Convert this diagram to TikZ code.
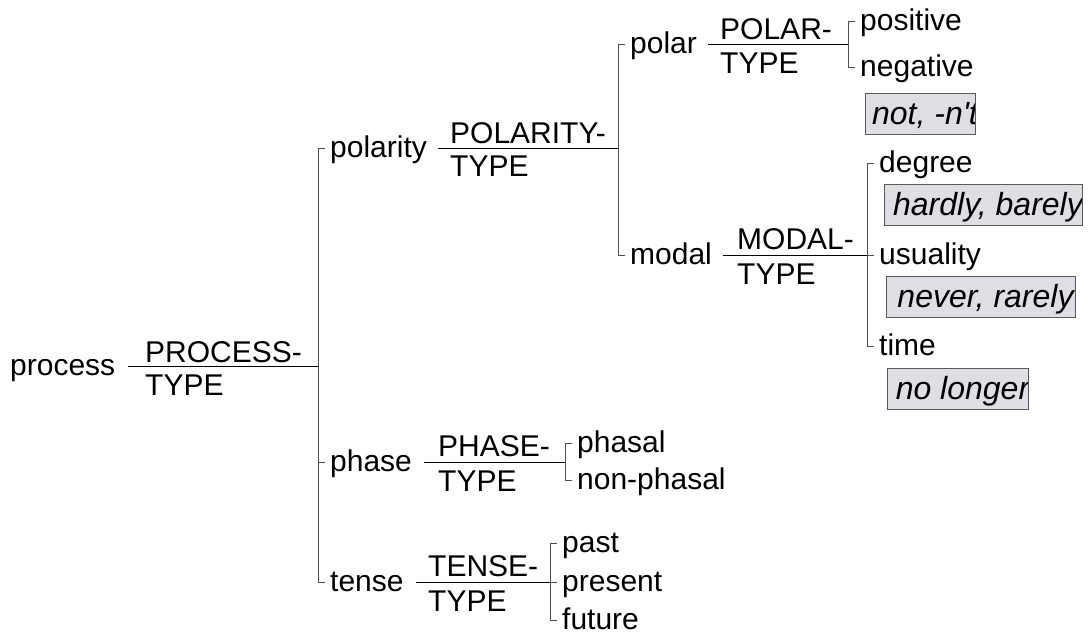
\documentclass[tikz,border=0pt]{standalone}
\usepackage{fontspec}
\setmainfont{Liberation Sans}
\definecolor{brackline}{RGB}{80,80,80}
\definecolor{exfill}{RGB}{222,222,228}
\definecolor{exline}{RGB}{90,90,90}
\newcommand{\labelsize}{\fontsize{30}{36}\selectfont}
\newcommand{\exsize}{\fontsize{32}{36}\selectfont\itshape}
\begin{document}
\begin{tikzpicture}[x=1pt,y=-1pt,
  lbl/.style={anchor=west, inner xsep=5pt, inner ysep=0pt,
    text height=25.5pt, text depth=7.5pt, font=\labelsize},
  tytop/.style={anchor=base west, inner sep=0pt, font=\labelsize},
  tybot/.style={anchor=base west, inner sep=0pt, font=\labelsize},
  sysline/.style={draw=black, line width=1pt},
  brk/.style={draw=brackline, line width=1pt},
  exbox/.style={draw=exline, fill=exfill, line width=1pt, anchor=north west,
    inner sep=0pt, minimum height=41pt,
    path picture={\node[anchor=base west, inner sep=0pt]
      at ([xshift=4pt,yshift=10pt]path picture bounding box.south west)
      {\exsize #1};}},
]
\useasboundingbox (0,0) rectangle (1091,644);

% root system: PROCESS-TYPE
\node[lbl] (process) at (5,366) {process};
\coordinate (j0) at (318,366);
\draw[sysline] ([xshift=8pt]process.east) -- (j0);
\node[tytop] (process-t) at (145,362) {PROCESS-};
\node[tybot] (process-b) at (145,395) {TYPE};

\node[lbl] (polarity) at (325,149) {polarity};
\node[lbl] (phase) at (325,462) {phase};
\node[lbl] (tense) at (325,582) {tense};
\draw[brk] (polarity.west) -- ++(-7,0) |- (tense.west);
\draw[brk] (phase.west) -- ++(-7,0);

% POLARITY-TYPE
\coordinate (j1) at (618,149);
\draw[sysline] ([xshift=6pt]polarity.east) -- (j1);
\node[tytop] (polarity-t) at (450,144) {POLARITY-};
\node[tybot] (polarity-b) at (450,177) {TYPE};
\node[lbl] (polar) at (625,45) {polar};
\node[lbl] (modal) at (625,255) {modal};
\draw[brk] (polar.west) -- ++(-7,0) |- (modal.west);

% POLAR-TYPE
\coordinate (j2) at (848,45);
\draw[sysline] ([xshift=6pt]polar.east) -- (j2);
\node[tytop] (polar-t) at (720,40) {POLAR-};
\node[tybot] (polar-b) at (720,74) {TYPE};
\node[lbl] (positive) at (855,22) {positive};
\node[lbl] (negative) at (855,68) {negative};
\draw[brk] (positive.west) -- ++(-7,0) |- (negative.west);
\node[exbox={not, -n\textquotesingle t}, minimum width=110pt] (ex-not) at (865,93) {};

% MODAL-TYPE
\coordinate (j3) at (867,255);
\draw[sysline] ([xshift=6pt]modal.east) -- (j3);
\node[tytop] (modal-t) at (737,249) {MODAL-};
\node[tybot] (modal-b) at (737,284) {TYPE};
\node[lbl] (degree) at (874,164) {degree};
\node[lbl] (usuality) at (874,255) {usuality};
\node[lbl] (time) at (874,346) {time};
\draw[brk] (degree.west) -- ++(-7,0) |- (time.west);
\draw[brk] (usuality.west) -- ++(-7,0);
\node[exbox={hardly, barely}, minimum width=198pt] (ex-degree) at (884,184) {};
\node[exbox={never, rarely}, minimum width=189pt] (ex-usuality) at (886,276) {};
\node[exbox={no longer}, minimum width=141pt] (ex-time) at (887,368) {};

% PHASE-TYPE
\coordinate (j4) at (565,462);
\draw[sysline] ([xshift=7pt]phase.east) -- (j4);
\node[tytop] (phase-t) at (438,456) {PHASE-};
\node[tybot] (phase-b) at (438,491) {TYPE};
\node[lbl] (phasal) at (572,443) {phasal};
\node[lbl] (nonphasal) at (572,480) {non-phasal};
\draw[brk] (phasal.west) -- ++(-7,0) |- (nonphasal.west);

% TENSE-TYPE
\coordinate (j5) at (550,582);
\draw[sysline] ([xshift=7pt]tense.east) -- (j5);
\node[tytop] (tense-t) at (428,576) {TENSE-};
\node[tybot] (tense-b) at (428,611) {TYPE};
\node[lbl] (past) at (557,543) {past};
\node[lbl] (present) at (557,582) {present};
\node[lbl] (future) at (557,620) {future};
\draw[brk] (past.west) -- ++(-7,0) |- (future.west);
\draw[brk] (present.west) -- ++(-7,0);
\end{tikzpicture}
\end{document}
